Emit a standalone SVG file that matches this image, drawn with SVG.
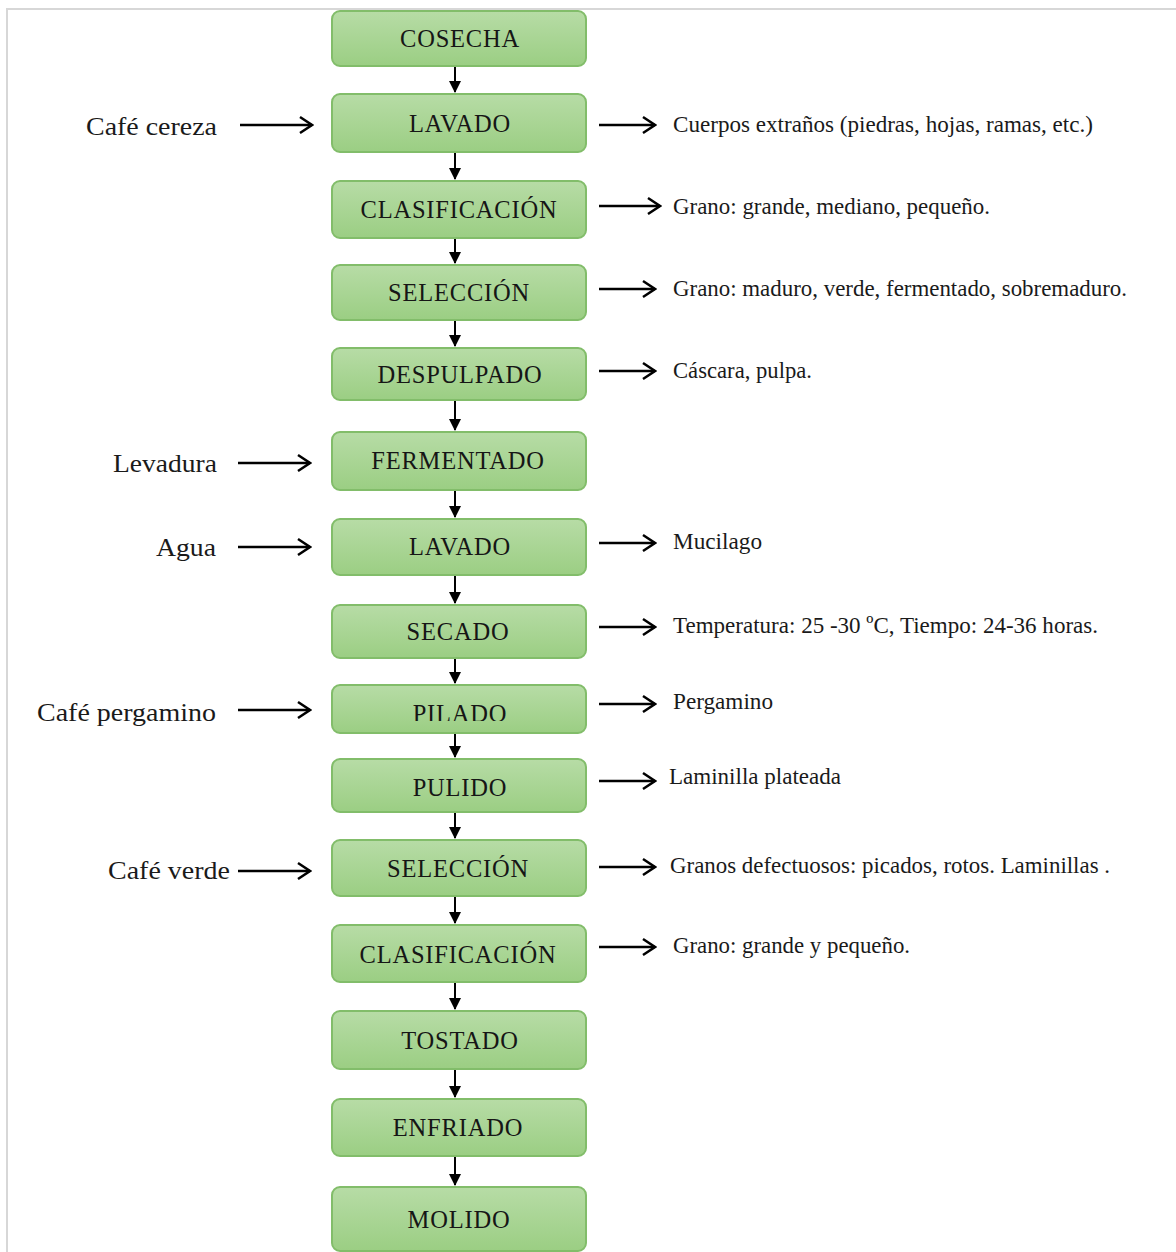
<svg xmlns="http://www.w3.org/2000/svg" width="1176" height="1252" viewBox="0 0 1176 1252">
<defs>
<linearGradient id="g" x1="0" y1="0" x2="0" y2="1">
<stop offset="0" stop-color="#b7dca6"/>
<stop offset="1" stop-color="#9bce83"/>
</linearGradient>
<marker id="fa" markerWidth="13" markerHeight="13" refX="11" refY="6.5" orient="auto" markerUnits="userSpaceOnUse">
<path d="M0,0.5 L12,6.5 L0,12.5 Z" fill="#000"/>
</marker>
<marker id="oa" markerWidth="16" markerHeight="20" refX="14" refY="10" orient="auto" markerUnits="userSpaceOnUse">
<path d="M2,2 L14,10 L2,18" fill="none" stroke="#000" stroke-width="2.5"/>
</marker>
<clipPath id="pclip"><rect x="332" y="685" width="254" height="36"/></clipPath>
</defs>
<style>
.box{fill:url(#g);stroke:#82bd6a;stroke-width:2}
.bt{font-family:"Liberation Serif",serif;font-size:24.5px;letter-spacing:0.8px;fill:#161616;text-anchor:middle}
.lt{font-family:"Liberation Serif",serif;font-size:26px;fill:#1a1a1a}
.rt{font-family:"Liberation Serif",serif;font-size:24px;fill:#1a1a1a}
.v{stroke:#000;stroke-width:2;fill:none;marker-end:url(#fa)}
.h{stroke:#000;stroke-width:2.5;fill:none;marker-end:url(#oa)}
.frame{stroke:#d7d7d7;stroke-width:2;fill:none}
</style>
<rect width="1176" height="1252" fill="#fff"/>
<path class="frame" d="M7,1252 V9 H1176"/>

<g id="connectors">
<line class="v" x1="455" y1="66" x2="455" y2="92"/>
<line class="v" x1="455" y1="152" x2="455" y2="179"/>
<line class="v" x1="455" y1="238" x2="455" y2="263"/>
<line class="v" x1="455" y1="320" x2="455" y2="346"/>
<line class="v" x1="455" y1="400" x2="455" y2="430"/>
<line class="v" x1="455" y1="490" x2="455" y2="517"/>
<line class="v" x1="455" y1="575" x2="455" y2="603"/>
<line class="v" x1="455" y1="658" x2="455" y2="683"/>
<line class="v" x1="455" y1="733" x2="455" y2="757"/>
<line class="v" x1="455" y1="812" x2="455" y2="838"/>
<line class="v" x1="455" y1="896" x2="455" y2="923"/>
<line class="v" x1="455" y1="982" x2="455" y2="1009"/>
<line class="v" x1="455" y1="1069" x2="455" y2="1097"/>
<line class="v" x1="455" y1="1156" x2="455" y2="1185"/>

<line class="h" x1="240" y1="125" x2="312" y2="125"/>
<line class="h" x1="238" y1="463" x2="310" y2="463"/>
<line class="h" x1="238" y1="547" x2="310" y2="547"/>
<line class="h" x1="238" y1="710" x2="310" y2="710"/>
<line class="h" x1="238" y1="871" x2="310" y2="871"/>

<line class="h" x1="599" y1="125" x2="655" y2="125"/>
<line class="h" x1="599" y1="206" x2="660" y2="206"/>
<line class="h" x1="599" y1="289" x2="655" y2="289"/>
<line class="h" x1="599" y1="371" x2="655" y2="371"/>
<line class="h" x1="599" y1="543" x2="655" y2="543"/>
<line class="h" x1="599" y1="627" x2="655" y2="627"/>
<line class="h" x1="599" y1="704" x2="655" y2="704"/>
<line class="h" x1="599" y1="781" x2="655" y2="781"/>
<line class="h" x1="599" y1="867" x2="655" y2="867"/>
<line class="h" x1="599" y1="947" x2="655" y2="947"/>
</g>

<g id="n1"><rect class="box" x="332" y="11" width="254" height="55" rx="8"/><text class="bt" x="460" y="47">COSECHA</text></g>
<g id="n2"><rect class="box" x="332" y="94" width="254" height="58" rx="8"/><text class="bt" x="460" y="132">LAVADO</text></g>
<g id="n3"><rect class="box" x="332" y="181" width="254" height="57" rx="8"/><text class="bt" x="459" y="218">CLASIFICACIÓN</text></g>
<g id="n4"><rect class="box" x="332" y="265" width="254" height="55" rx="8"/><text class="bt" x="459" y="301">SELECCIÓN</text></g>
<g id="n5"><rect class="box" x="332" y="348" width="254" height="52" rx="8"/><text class="bt" x="460" y="383">DESPULPADO</text></g>
<g id="n6"><rect class="box" x="332" y="432" width="254" height="58" rx="8"/><text class="bt" x="458" y="469">FERMENTADO</text></g>
<g id="n7"><rect class="box" x="332" y="519" width="254" height="56" rx="8"/><text class="bt" x="460" y="555">LAVADO</text></g>
<g id="n8"><rect class="box" x="332" y="605" width="254" height="53" rx="8"/><text class="bt" x="458" y="640">SECADO</text></g>
<g id="n9"><rect class="box" x="332" y="685" width="254" height="48" rx="8"/><text class="bt" x="460" y="722" clip-path="url(#pclip)">PILADO</text></g>
<g id="n10"><rect class="box" x="332" y="759" width="254" height="53" rx="8"/><text class="bt" x="460" y="796">PULIDO</text></g>
<g id="n11"><rect class="box" x="332" y="840" width="254" height="56" rx="8"/><text class="bt" x="458" y="877">SELECCIÓN</text></g>
<g id="n12"><rect class="box" x="332" y="925" width="254" height="57" rx="8"/><text class="bt" x="458" y="963">CLASIFICACIÓN</text></g>
<g id="n13"><rect class="box" x="332" y="1011" width="254" height="58" rx="8"/><text class="bt" x="460" y="1049">TOSTADO</text></g>
<g id="n14"><rect class="box" x="332" y="1099" width="254" height="57" rx="8"/><text class="bt" x="458" y="1136">ENFRIADO</text></g>
<g id="n15"><rect class="box" x="332" y="1187" width="254" height="64" rx="8"/><text class="bt" x="459" y="1228">MOLIDO</text></g>

<g id="inputs">
<text class="lt" x="86" y="135" textLength="131" lengthAdjust="spacingAndGlyphs">Café cereza</text>
<text class="lt" x="113" y="472" textLength="104" lengthAdjust="spacingAndGlyphs">Levadura</text>
<text class="lt" x="156" y="556" textLength="60" lengthAdjust="spacingAndGlyphs">Agua</text>
<text class="lt" x="37" y="721" textLength="179" lengthAdjust="spacingAndGlyphs">Café pergamino</text>
<text class="lt" x="108" y="879" textLength="122" lengthAdjust="spacingAndGlyphs">Café verde</text>
</g>

<g id="outputs">
<text class="rt" x="673" y="132" textLength="420" lengthAdjust="spacingAndGlyphs">Cuerpos extraños (piedras, hojas, ramas, etc.)</text>
<text class="rt" x="673" y="214" textLength="317" lengthAdjust="spacingAndGlyphs">Grano: grande, mediano, pequeño.</text>
<text class="rt" x="673" y="296" textLength="454" lengthAdjust="spacingAndGlyphs">Grano: maduro, verde, fermentado, sobremaduro.</text>
<text class="rt" x="673" y="378" textLength="139" lengthAdjust="spacingAndGlyphs">Cáscara, pulpa.</text>
<text class="rt" x="673" y="549" textLength="89" lengthAdjust="spacingAndGlyphs">Mucilago</text>
<text class="rt" x="673" y="633" textLength="425" lengthAdjust="spacingAndGlyphs">Temperatura: 25 -30 ºC, Tiempo: 24-36 horas.</text>
<text class="rt" x="673" y="709" textLength="100" lengthAdjust="spacingAndGlyphs">Pergamino</text>
<text class="rt" x="669" y="784" textLength="172" lengthAdjust="spacingAndGlyphs">Laminilla plateada</text>
<text class="rt" x="670" y="873" textLength="440" lengthAdjust="spacingAndGlyphs">Granos defectuosos: picados, rotos. Laminillas .</text>
<text class="rt" x="673" y="953" textLength="237" lengthAdjust="spacingAndGlyphs">Grano: grande y pequeño.</text>
</g>
</svg>
